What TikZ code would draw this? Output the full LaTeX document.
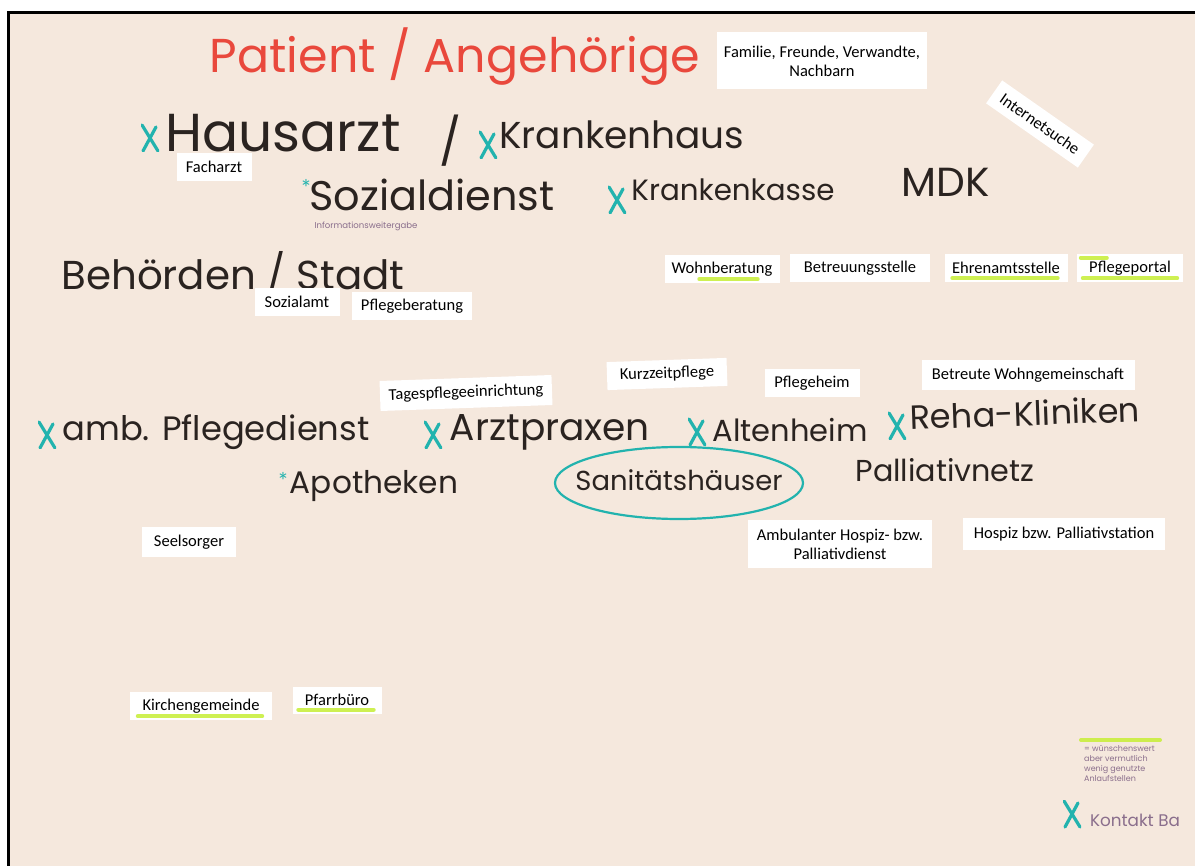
\documentclass[tikz,border=0pt]{standalone}
\usepackage{fontspec}
\usepackage{graphicx}
\setmainfont{Carlito}
\newfontfamily\handfont{Poppins}
\definecolor{paper}{HTML}{F5E8DD}
\definecolor{ink}{HTML}{2A2320}
\definecolor{redink}{HTML}{E9483C}
\definecolor{teal}{HTML}{22B3AE}
\definecolor{purpink}{HTML}{8A6E8C}
\definecolor{hlgreen}{HTML}{C6EE34}
\newcommand{\hw}[2]{\resizebox{#1pt}{!}{\handfont #2}}
\tikzset{
  lbl/.style={fill=white, inner sep=2pt, font=\fontsize{16.5}{19}\selectfont, text=black, align=center},
  hand/.style={inner sep=0pt, text=ink},
  redhand/.style={inner sep=0pt, text=redink},
  xm/.style={inner sep=0pt, minimum width=18pt, minimum height=28pt,
    path picture={
      \draw[teal, line width=3.2pt, line cap=round]
        ([xshift=1pt,yshift=-1pt]path picture bounding box.north west) -- ([xshift=-1pt,yshift=1pt]path picture bounding box.south east);
      \draw[teal, line width=3.2pt, line cap=round]
        ([xshift=-3pt,yshift=-3pt]path picture bounding box.north east) -- ([xshift=2pt,yshift=1pt]path picture bounding box.south west);
    }},
  star/.style={inner sep=0pt, text=teal, font=\fontsize{24}{24}\selectfont},
  hl/.style={draw=hlgreen, line width=4pt, line cap=round, opacity=0.85},
  ring/.style={draw=teal, line width=2.2pt},
}
\begin{document}
\begin{tikzpicture}[x=1pt,y=-1pt]
\useasboundingbox (0,0) rectangle (1195,866);
\fill[white] (0,0) rectangle (1195,866);
\fill[paper] (8,13) rectangle (1195,866);
\draw[line width=3pt, black] (8,866) -- (8,13) -- (1195,13);

% title
\node[redhand] (title) at (455,57) {\hw{490}{Patient / Angehörige}};
\node[lbl, minimum width=210pt, minimum height=57pt] (fam) at (822,61) {Familie, Freunde, Verwandte,\\Nachbarn};
\node[lbl, minimum width=112pt, minimum height=28pt, rotate=-35] (inet) at (1040,124) {Internetsuche};

% Hausarzt / Krankenhaus
\node[xm] (x1) at (150,138) {};
\node[hand] (haus) at (283,133) {\hw{235}{Hausarzt}};
\node[hand] (slash) at (450,141) {\hw{22}{/}};
\node[xm] (x2) at (488,145) {};
\node[hand] (kh) at (622,135) {\hw{245}{Krankenhaus}};
\node[lbl, minimum width=75pt, minimum height=28pt] (fach) at (214,167) {Facharzt};

% Sozialdienst row
\node[star] (s1) at (306,188) {*};
\node[hand] (sozd) at (432,195) {\hw{245}{Sozialdienst}};
\node[inner sep=0pt, text=purpink] (info) at (366,226) {\hw{103}{Informationsweitergabe}};
\node[xm] (x3) at (617,200) {};
\node[hand] (kk) at (733,190) {\hw{203}{Krankenkasse}};
\node[hand] (mdk) at (946,182) {\hw{88}{MDK}};

% Behoerden
\node[hand] (beh) at (233,274) {\hw{343}{Behörden / Stadt}};
\node[lbl, minimum width=85pt, minimum height=28pt] (sozamt) at (297,302) {Sozialamt};
\node[lbl, minimum width=120pt, minimum height=28pt] (pflb) at (412,306) {Pflegeberatung};

\node[lbl, minimum width=115pt, minimum height=28pt] (wohn) at (722,269) {Wohnberatung};
\node[lbl, minimum width=140pt, minimum height=28pt] (betr) at (860,268) {Betreuungsstelle};
\node[lbl, minimum width=123pt, minimum height=28pt] (ehren) at (1006,268) {Ehrenamtsstelle};
\node[lbl, minimum width=106pt, minimum height=28pt] (portal) at (1130,268) {Pflegeportal};
\draw[hl] ([xshift=35pt,yshift=4pt]wohn.south west) -- ([xshift=-22pt,yshift=4pt]wohn.south east);
\draw[hl] ([xshift=8pt,yshift=4pt]ehren.south west) -- ([xshift=-10pt,yshift=4pt]ehren.south east);
\draw[hl] ([xshift=6pt,yshift=4pt]portal.south west) -- ([xshift=-6pt,yshift=4pt]portal.south east);
\draw[hl] ([xshift=4pt,yshift=-4pt]portal.north west) -- ([xshift=30pt,yshift=-4pt]portal.north west);

% care facilities
\node[lbl, minimum width=172pt, minimum height=30pt, rotate=2] (tages) at (466,393) {Tagespflegeeinrichtung};
\node[lbl, minimum width=120pt, minimum height=28pt, rotate=2] (kurz) at (667,374) {Kurzzeitpflege};
\node[lbl, minimum width=95pt, minimum height=28pt] (heim) at (812,383) {Pflegeheim};
\node[lbl, minimum width=213pt, minimum height=30pt] (wg) at (1028,375) {Betreute Wohngemeinschaft};

\node[xm] (x4) at (47,435) {};
\node[hand] (amb) at (216,432) {\hw{307}{amb. Pflegedienst}};
\node[xm] (x5) at (433,435) {};
\node[hand] (arzt) at (550,432) {\hw{200}{Arztpraxen}};
\node[xm] (x6) at (697,432) {};
\node[hand] (alten) at (790,430) {\hw{155}{Altenheim}};
\node[xm] (x7) at (897,426) {};
\node[hand, rotate=2] (reha) at (1025,413) {\hw{230}{Reha-Kliniken}};

\node[star] (s2) at (283,481) {*};
\node[hand] (apo) at (374,486) {\hw{168}{Apotheken}};
\node[hand] (sani) at (679,480) {\hw{207}{Sanitätshäuser}};
\draw[ring] (sani.center) ++(0,3) ellipse [x radius=124pt, y radius=36pt];
\node[hand] (pall) at (945,470) {\hw{179}{Palliativnetz}};

\node[lbl, minimum width=184pt, minimum height=48pt] (ambh) at (840,544) {Ambulanter Hospiz- bzw.\\Palliativdienst};
\node[lbl, minimum width=202pt, minimum height=32pt] (hosp) at (1064,534) {Hospiz bzw. Palliativstation};
\node[lbl, minimum width=94pt, minimum height=29pt] (seel) at (189,542) {Seelsorger};

\node[lbl, minimum width=142pt, minimum height=28pt] (kirch) at (201,706) {Kirchengemeinde};
\node[lbl, minimum width=89pt, minimum height=27pt] (pfarr) at (337,700) {Pfarrbüro};
\draw[hl] ([xshift=8pt,yshift=4pt]kirch.south west) -- ([xshift=-10pt,yshift=4pt]kirch.south east);
\draw[hl] ([xshift=6pt,yshift=4pt]pfarr.south west) -- ([xshift=-8pt,yshift=4pt]pfarr.south east);

% legend
\coordinate (lg1) at (1081,740);
\coordinate (lg2) at (1160,740);
\draw[hl] (lg1) -- (lg2);
\node[inner sep=0pt, text=purpink, align=left, font=\handfont\fontsize{8}{10}\selectfont, anchor=north west] (legtxt) at (1084,745) {= wünschenswert\\aber vermutlich\\wenig genutzte\\Anlaufstellen};
\node[xm] (x8) at (1072,814) {};
\node[inner sep=0pt, text=purpink] (kontakt) at (1135,820) {\hw{90}{Kontakt Ba}};
\end{tikzpicture}
\end{document}
